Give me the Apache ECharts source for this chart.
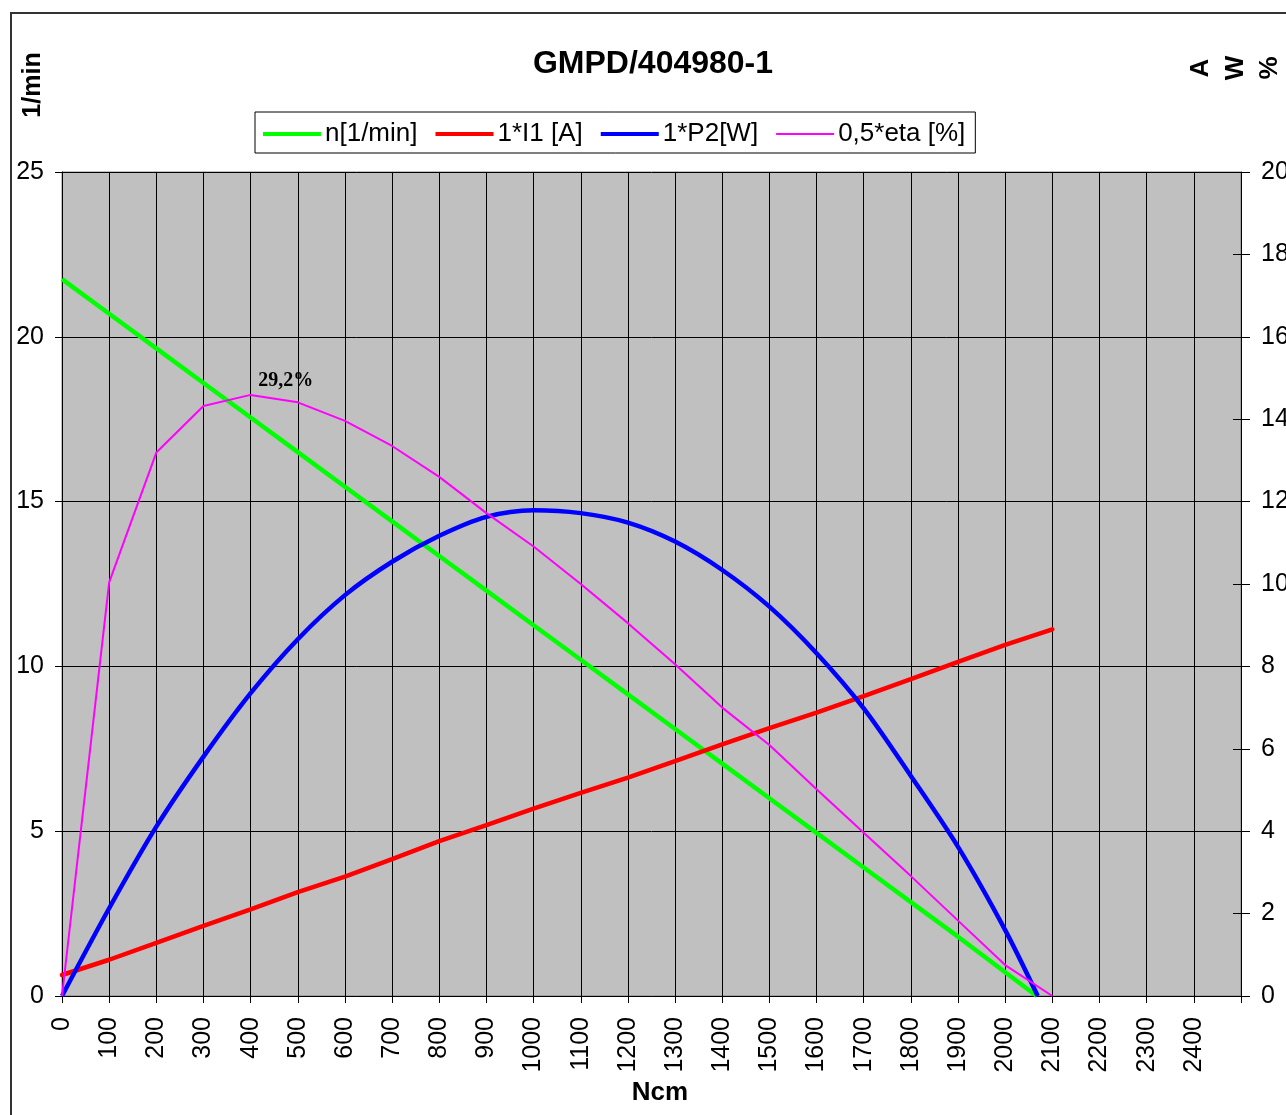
<!DOCTYPE html>
<html>
<head>
<meta charset="utf-8">
<script src="https://cdn.jsdelivr.net/npm/echarts@6/dist/echarts.min.js"></script>
<style>
html,body{margin:0;padding:0;background:#fff;}
#c{width:1286px;height:1115px;}
</style>
</head>
<body>
<div id="c"></div>
<script>
// ---- data ----
const torqueN   = [0,100,200,300,400,500,600,700,800,900,1000,1100,1200,1300,1400,1500,1600,1700,1800,1900,2000,2067];
const speed     = [21.75,20.70,19.65,18.60,17.55,16.50,15.45,14.40,13.35,12.30,11.25,10.20,9.15,8.10,7.05,6.00,4.95,3.90,2.85,1.80,0.72,0];
const torqueI   = [0,100,200,300,400,500,600,700,800,900,1000,1100,1200,1300,1400,1500,1600,1700,1800,1900,2000,2100];
const current   = [0.51,0.88,1.29,1.70,2.10,2.52,2.90,3.32,3.76,4.15,4.55,4.93,5.30,5.70,6.11,6.50,6.88,7.28,7.69,8.11,8.52,8.90];
const torqueP   = [0,100,200,300,400,500,600,700,800,900,1000,1100,1200,1300,1400,1500,1600,1700,1800,1900,2000,2069];
const power     = [0,2.13,4.11,5.81,7.35,8.66,9.73,10.54,11.17,11.63,11.79,11.72,11.49,11.03,10.34,9.45,8.32,6.98,5.34,3.62,1.60,0];
const torqueE   = [0,100,200,300,400,500,600,700,800,900,1000,1100,1200,1300,1400,1500,1600,1700,1800,1900,2000,2100];
const etaHalf   = [0,10.04,13.19,14.32,14.59,14.41,13.96,13.35,12.60,11.72,10.91,10.00,9.05,8.05,7.00,6.09,5.02,3.96,2.91,1.83,0.75,0];
const etaMaxLabel = '29,2%';
const etaMaxIndex = 4;
const seriesNames = ['n[1/min]','1*I1 [A]','1*P2[W]','0,5*eta [%]'];
const titleText = 'GMPD/404980-1';
const xName = 'Ncm';
const leftName = '1/min';
const rightNames = ['A','W','%'];

const pairs = (xs, ys) => xs.map((x,i)=>[x, ys[i]]);
const SANS = "'Liberation Sans', Arial, sans-serif";

const chart = echarts.init(document.getElementById('c'));
const option = {
  animation:false,
  backgroundColor:'#fff',
  textStyle:{fontFamily:SANS},
  title:{
    text:titleText, left:648, top:43, textAlign:'center',
    textStyle:{fontFamily:SANS, fontWeight:'bold', fontSize:32, color:'#000'}
  },
  legend:{
    left:255, top:112,
    backgroundColor:'#fff', borderColor:'#000', borderWidth:1,
    padding:[9,10,6,8],
    icon:'path://M0,0h58v4h-58z',
    itemWidth:58, itemHeight:14, itemGap:18,
    textStyle:{fontFamily:SANS, fontSize:26, color:'#000', padding:[0,0,0,-1]},
    data:[
      {name:seriesNames[0]},
      {name:seriesNames[1]},
      {name:seriesNames[2]},
      {name:seriesNames[3], icon:'path://M0,0h58v2h-58z'}
    ]
  },
  grid:{
    left:62, right:45, top:172, bottom:119,
    outerBoundsMode:'none', containLabel:false,
    show:true, backgroundColor:'#c0c0c0', borderColor:'#808080', borderWidth:1
  },
  xAxis:{
    type:'value', min:0, max:2500, interval:100,
    axisLine:{show:true, onZero:false, lineStyle:{color:'#000', width:1}},
    axisTick:{show:true, length:7, lineStyle:{color:'#000'}},
    splitLine:{show:true, lineStyle:{color:'#000', width:1}},
    axisLabel:{
      rotate:90, margin:21, fontSize:25, color:'#000', fontFamily:SANS,
      formatter:v => v===2500 ? '' : String(v)
    }
  },
  yAxis:[
    {
      type:'value', min:0, max:25, interval:5, position:'left',
      axisLine:{show:true, lineStyle:{color:'#000'}},
      axisTick:{show:true, length:7, lineStyle:{color:'#000'}},
      splitLine:{show:true, lineStyle:{color:'#000', width:1}},
      axisLabel:{margin:18, fontSize:25, color:'#000', fontFamily:SANS}
    },
    {
      type:'value', min:0, max:20, interval:2, position:'right',
      axisLine:{show:true, lineStyle:{color:'#000'}},
      axisTick:{show:true, length:9, lineStyle:{color:'#000'}},
      splitLine:{show:false},
      axisLabel:{margin:20, fontSize:25, color:'#000', fontFamily:SANS}
    },
    {
      type:'value', min:0, max:20, interval:2, position:'right',
      axisLine:{show:false},
      axisTick:{show:true, inside:true, length:8, lineStyle:{color:'#000'}},
      splitLine:{show:false},
      axisLabel:{show:false}
    }
  ],
  series:[
    {
      name:seriesNames[0], type:'line', yAxisIndex:0, symbol:'none',
      data:pairs(torqueN, speed),
      lineStyle:{color:'#00ff00', width:4.5}, itemStyle:{color:'#00ff00'}, z:3
    },
    {
      name:seriesNames[1], type:'line', yAxisIndex:1, symbol:'none',
      data:pairs(torqueI, current),
      lineStyle:{color:'#ff0000', width:4.5, cap:'round'}, itemStyle:{color:'#ff0000'}, z:4
    },
    {
      name:seriesNames[2], type:'line', yAxisIndex:1, symbol:'none', smooth:0.3,
      data:pairs(torqueP, power),
      lineStyle:{color:'#0000ff', width:4.5}, itemStyle:{color:'#0000ff'}, z:5
    },
    {
      name:seriesNames[3], type:'line', yAxisIndex:1, symbol:'none',
      data:pairs(torqueE, etaHalf),
      lineStyle:{color:'#ff00ff', width:2}, itemStyle:{color:'#ff00ff'}, z:6,
      markPoint:{
        symbol:'circle', symbolSize:1,
        itemStyle:{color:'rgba(0,0,0,0)'},
        label:{
          show:true, position:'top', distance:5, offset:[35,1],
          formatter:etaMaxLabel, color:'#000',
          fontFamily:"'Liberation Serif', 'Times New Roman', serif",
          fontWeight:'bold', fontSize:20
        },
        data:[{coord:[torqueE[etaMaxIndex], etaHalf[etaMaxIndex]]}]
      }
    }
  ],
  graphic:[
    {type:'rect', silent:true, shape:{x:11, y:13, width:1500, height:1300},
     style:{fill:'none', stroke:'#333', lineWidth:2}, z:-1},
    {type:'text', x:33, y:85, rotation:Math.PI/2,
     style:{text:leftName, fontFamily:SANS, fontWeight:'bold', fontSize:25, fill:'#000', align:'center', verticalAlign:'middle'}},
    {type:'text', x:1201, y:68, rotation:Math.PI/2,
     style:{text:rightNames[0], fontFamily:SANS, fontWeight:'bold', fontSize:26, fill:'#000', align:'center', verticalAlign:'middle'}},
    {type:'text', x:1236, y:68, rotation:Math.PI/2,
     style:{text:rightNames[1], fontFamily:SANS, fontWeight:'bold', fontSize:26, fill:'#000', align:'center', verticalAlign:'middle'}},
    {type:'text', x:1270, y:68, rotation:Math.PI/2,
     style:{text:rightNames[2], fontFamily:SANS, fontWeight:'bold', fontSize:26, fill:'#000', align:'center', verticalAlign:'middle'}},
    {type:'text', x:660, y:1093,
     style:{text:xName, fontFamily:SANS, fontWeight:'bold', fontSize:26, fill:'#000', align:'center', verticalAlign:'middle'}}
  ]
};
chart.setOption(option);
</script>
</body>
</html>
